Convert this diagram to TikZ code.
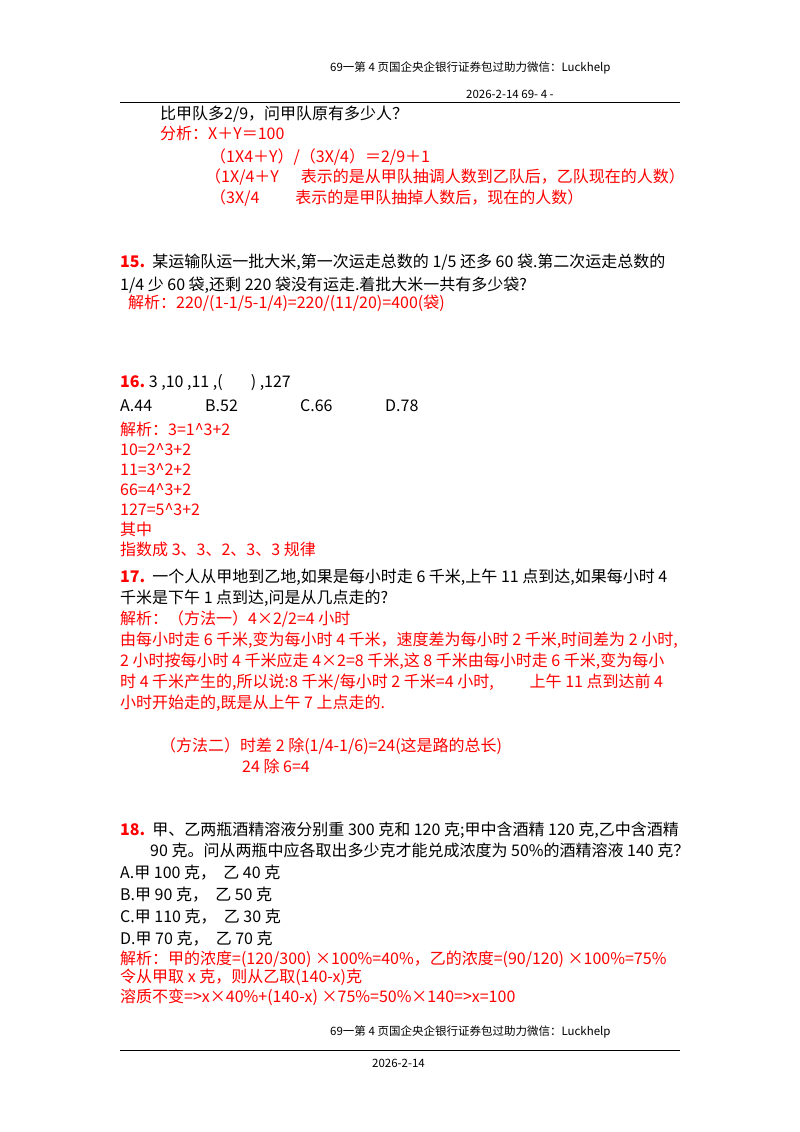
\documentclass[tikz,border=0pt]{standalone}
\usepackage{fontspec}
\setmainfont{Liberation Serif}
\newfontfamily\cjk{Noto Sans CJK SC}
\begin{document}
\begin{tikzpicture}[x=1pt,y=-1pt,
 ln/.style={anchor=base west,inner sep=0pt,font=\cjk\fontsize{16}{18}\selectfont},
 rd/.style={ln,text=red},
 sm/.style={anchor=base west,inner sep=0pt,font=\cjk\fontsize{11.5}{13}\selectfont}]
\useasboundingbox (0,0) rectangle (800,1132);
\node[sm] (h1) at (330,71) {69一第 4 页国企央企银行证券包过助力微信：Luckhelp};
\node[sm] (h2) at (466,98) {2026-2-14 69- 4 -};
\draw (120,102) -- (680,102);
\node[ln] (a1) at (160,119) {比甲队多2/9，问甲队原有多少人？};
\node[rd] (a2) at (160,139) {分析：X＋Y＝100};
\node[rd] (a3) at (210,162) {（1X4＋Y）/（3X/4）＝2/9＋1};
\node[rd] (a4) at (205,182) {（1X/4＋Y\hspace{22pt}表示的是从甲队抽调人数到乙队后，乙队现在的人数）};
\node[rd] (a5) at (210,203) {（3X/4\hspace{36pt}表示的是甲队抽掉人数后，现在的人数）};
\node[ln] (b1) at (120,267) {\textcolor{red}{\bfseries 15.}\ \ 某运输队运一批大米,第一次运走总数的 1/5 还多 60 袋.第二次运走总数的};
\node[ln] (b2) at (120,290) {1/4 少 60 袋,还剩 220 袋没有运走.着批大米一共有多少袋?};
\node[rd] (b3) at (128,308) {解析：220/(1-1/5-1/4)=220/(11/20)=400(袋)};
\node[ln] (c1) at (120,387) {\textcolor{red}{\bfseries 16.}\ 3 ,10 ,11 ,(\hspace{28pt}) ,127};
\node[ln] (c2) at (120,411) {A.44};
\node[ln] (c3) at (205,411) {B.52};
\node[ln] (c4) at (300,411) {C.66};
\node[ln] (c5) at (385,411) {D.78};
\node[rd] (c6) at (120,435) {解析：3=1\^{}3+2};
\node[rd] (c7) at (120,455) {10=2\^{}3+2};
\node[rd] (c8) at (120,475) {11=3\^{}2+2};
\node[rd] (c9) at (120,495) {66=4\^{}3+2};
\node[rd] (c10) at (120,515) {127=5\^{}3+2};
\node[rd] (c11) at (120,535) {其中};
\node[rd] (c12) at (120,555) {指数成 3、3、2、3、3 规律};
\node[ln] (d1) at (120,582) {\textcolor{red}{\bfseries 17.}\ \ 一个人从甲地到乙地,如果是每小时走 6 千米,上午 11 点到达,如果每小时 4};
\node[ln] (d2) at (120,603) {千米是下午 1 点到达,问是从几点走的?};
\node[rd] (d3) at (120,624) {解析：（方法一）4×2/2=4 小时};
\node[rd] (d4) at (120,645) {由每小时走 6 千米,变为每小时 4 千米，速度差为每小时 2 千米,时间差为 2 小时,};
\node[rd] (d5) at (120,666) {2 小时按每小时 4 千米应走 4×2=8 千米,这 8 千米由每小时走 6 千米,变为每小};
\node[rd] (d6) at (120,687) {时 4 千米产生的,所以说:8 千米/每小时 2 千米=4 小时,\hspace{36pt}上午 11 点到达前 4};
\node[rd] (d7) at (120,708) {小时开始走的,既是从上午 7 上点走的.};
\node[rd] (d8) at (160,751) {（方法二）时差 2 除(1/4-1/6)=24(这是路的总长)};
\node[rd] (d9) at (242,772) {24 除 6=4};
\node[ln] (e1) at (120,835) {\textcolor{red}{\bfseries 18.}\ \ 甲、乙两瓶酒精溶液分别重 300 克和 120 克;甲中含酒精 120 克,乙中含酒精};
\node[ln] (e2) at (150,856) {90 克。问从两瓶中应各取出多少克才能兑成浓度为 50\%的酒精溶液 140 克？};
\node[ln] (e3) at (120,878) {A.甲 100 克，\ \ 乙 40 克};
\node[ln] (e4) at (120,900) {B.甲 90 克，\ \ 乙 50 克};
\node[ln] (e5) at (120,922) {C.甲 110 克，\ \ 乙 30 克};
\node[ln] (e6) at (120,944) {D.甲 70 克，\ \ 乙 70 克};
\node[rd] (e7) at (120,964) {解析：甲的浓度=(120/300) ×100\%=40\%，乙的浓度=(90/120) ×100\%=75\%};
\node[rd] (e8) at (120,982) {令从甲取 x 克，则从乙取(140-x)克};
\node[rd] (e9) at (120,1002) {溶质不变=>x×40\%+(140-x) ×75\%=50\%×140=>x=100};
\node[sm] (f1) at (330,1035) {69一第 4 页国企央企银行证券包过助力微信：Luckhelp};
\draw (120,1050) -- (680,1050);
\node[sm] (f2) at (372,1067) {2026-2-14};
\end{tikzpicture}
\end{document}
